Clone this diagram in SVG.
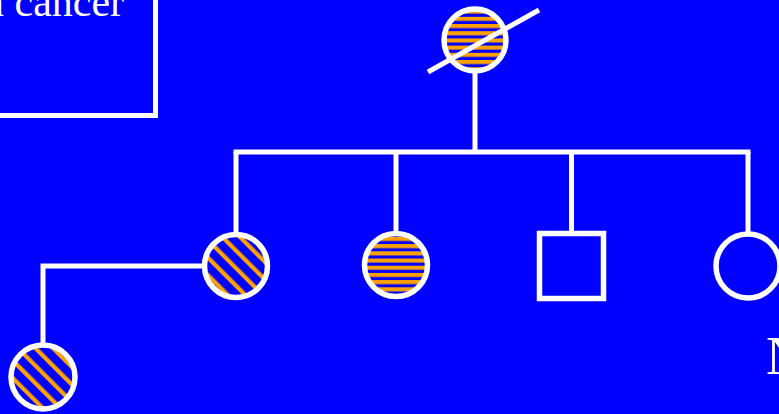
<svg xmlns="http://www.w3.org/2000/svg" width="779" height="414" viewBox="0 0 779 414">
  <defs>
    <style>
      .ln { stroke: #ffffff; stroke-width: 5; fill: none; }
      .sym { stroke: #ffffff; stroke-width: 5.5; }
      .lbl { font-family: "Liberation Serif", "Times New Roman", serif; fill: #ffffff; }
    </style>
    <!-- horizontal orange/blue banding -->
    <pattern id="hbandA" patternUnits="userSpaceOnUse" width="20" height="7.2" patternTransform="translate(0,2.4)">
      <rect width="20" height="7.2" fill="#0000ff"/>
      <rect width="20" height="4.1" fill="#ffa200"/>
    </pattern>
    <pattern id="hbandB" patternUnits="userSpaceOnUse" width="20" height="7.2" patternTransform="translate(0,-0.7)">
      <rect width="20" height="7.2" fill="#0000ff"/>
      <rect width="20" height="4.1" fill="#ffa200"/>
    </pattern>
    <!-- diagonal orange/blue banding -->
    <pattern id="dband" patternUnits="userSpaceOnUse" width="12.4" height="20" patternTransform="rotate(-45)">
      <rect width="12.4" height="20" fill="#0000ff"/>
      <rect width="4.2" height="20" fill="#ffa200"/>
    </pattern>
  </defs>

  <rect width="779" height="414" fill="#0000ff"/>

  <!-- legend box -->
  <g id="legend">
    <rect class="ln" x="-10" y="-10" width="165.5" height="125.5"/>
    <text class="lbl" x="-17" y="16" font-size="42">n cancer</text>
  </g>

  <g id="connectors">
    <line class="ln" x1="475" y1="72" x2="475" y2="152"/>
    <line class="ln" x1="233.5" y1="152" x2="750.5" y2="152"/>
    <line class="ln" x1="236" y1="152" x2="236" y2="234"/>
    <line class="ln" x1="396" y1="152" x2="396" y2="234"/>
    <line class="ln" x1="571.5" y1="152" x2="571.5" y2="234"/>
    <line class="ln" x1="748" y1="152" x2="748" y2="234"/>
    <polyline class="ln" points="205,266 43,266 43,345"/>
  </g>

  <g id="grandmother">
    <circle class="sym" cx="475" cy="40" r="31" fill="url(#hbandA)"/>
    <line class="ln" x1="428" y1="72" x2="539" y2="10" stroke-width="6"/>
  </g>

  <g id="daughter1">
    <circle class="sym" cx="236" cy="266" r="31.5" fill="url(#dband)"/>
  </g>

  <g id="daughter2">
    <circle class="sym" cx="396" cy="265" r="31.5" fill="url(#hbandB)"/>
  </g>

  <g id="son">
    <rect class="sym" x="539.5" y="233.5" width="64" height="65" fill="none"/>
  </g>

  <g id="daughter3">
    <circle class="sym" cx="748" cy="266" r="32" fill="none"/>
  </g>

  <g id="granddaughter">
    <circle class="sym" cx="43" cy="377" r="32" fill="url(#dband)"/>
  </g>

  <text class="lbl" x="766" y="374" font-size="54">N</text>
</svg>
